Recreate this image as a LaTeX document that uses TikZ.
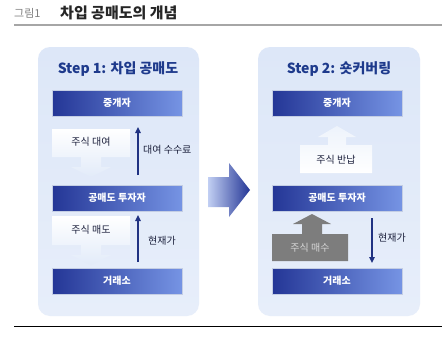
\documentclass[tikz,border=0pt]{standalone}
\usepackage{fontspec}
\setmainfont{Noto Sans CJK KR}
\usetikzlibrary{arrows.meta}
\definecolor{navy}{RGB}{32,50,130}
\definecolor{titleblue}{RGB}{30,58,140}
\definecolor{darktext}{RGB}{28,32,60}
\definecolor{panelA}{RGB}{221,231,248}
\definecolor{panelB}{RGB}{231,238,250}
\definecolor{boxL}{RGB}{36,54,150}
\definecolor{boxR}{RGB}{118,148,228}
\definecolor{boxedge}{RGB}{196,206,228}
\definecolor{fade}{RGB}{226,235,249}
\definecolor{graybox}{RGB}{125,125,125}
\definecolor{graytext}{RGB}{215,215,215}
\tikzset{
  panel/.style={rounded corners=12pt, top color=panelA, bottom color=panelB, draw=none},
  bluebox/.style={draw=boxedge, line width=1pt, left color=boxL, right color=boxR,
     minimum width=130pt, minimum height=26pt, inner sep=0pt, text=white,
     font=\fontsize{10}{12}\selectfont\bfseries},
  steptitle/.style={text=titleblue, font=\fontsize{14}{16}\selectfont\bfseries},
  lbl/.style={text=darktext, font=\fontsize{10}{12}\selectfont},
  thinarrow/.style={draw=navy, line width=1.5pt, -{Triangle[length=6pt,width=5.5pt]}},
}
\begin{document}
\begin{tikzpicture}[x=1pt,y=-1pt]
\useasboundingbox (0,0) rectangle (442,340);
\fill[white] (0,0) rectangle (442,340);

% header
\node[anchor=west, text=gray, font=\fontsize{11}{13}\selectfont, inner sep=0pt] (fig) at (14,13) {그림1};
\node[anchor=west, text=black!85, font=\fontsize{15}{17}\selectfont\bfseries, inner sep=0pt] (ttl) at (60,13) {차입 공매도의 개념};
\draw[gray!70, line width=2pt] (14,25) -- (442,25);
\draw[black, line width=1pt] (14,326) -- (442,326);

% panels
\path[panel] (38,47) rectangle (199,316);
\path[panel] (258,47) rectangle (420,316);

% middle arrow
\shade[left color=boxR!45, right color=boxL]
  (208,177) -- (229,177) -- (229,163) -- (250,190) -- (229,217) -- (229,207) -- (208,207) -- cycle;

% ---------- Step 1 ----------
\node[steptitle] (s1) at (118,69) {Step 1: 차입 공매도};
\node[bluebox] (b1) at (117,103) {중개자};
\node[bluebox] (b2) at (117,198) {공매도 투자자};
\node[bluebox] (b3) at (117,281) {거래소};

\shade[top color=white, middle color=white, bottom color=fade]
  (52,129) -- (130,129) -- (130,157) -- (101,157) -- (101,167) -- (111,167) -- (91,177)
  -- (71,167) -- (81,167) -- (81,157) -- (52,157) -- cycle;
\node[lbl] (w1) at (91,142) {주식 대여};

\shade[top color=white, middle color=white, bottom color=fade]
  (52,216) -- (130,216) -- (130,245) -- (101,245) -- (101,255) -- (111,255) -- (91,265)
  -- (71,255) -- (81,255) -- (81,245) -- (52,245) -- cycle;
\node[lbl] (w2) at (91,230) {주식 매도};

\coordinate (a1s) at (138,175);
\coordinate (a1e) at (138,127);
\draw[thinarrow] (a1s) -- (a1e);
\node[lbl, anchor=west, inner sep=0pt] (fee) at (143,150) {대여 수수료};

\coordinate (a2s) at (138,262);
\coordinate (a2e) at (138,215);
\draw[thinarrow] (a2s) -- (a2e);
\node[lbl, anchor=west, inner sep=0pt] (p1) at (148,241) {현재가};

% ---------- Step 2 ----------
\node[steptitle] (s2) at (339,69) {Step 2: 숏커버링};
\node[bluebox] (c1) at (337,103) {중개자};
\node[bluebox] (c2) at (337,198) {공매도 투자자};
\node[bluebox] (c3) at (337,281) {거래소};

\shade[bottom color=white, middle color=white, top color=fade!60!white]
  (300,173) -- (300,145) -- (328,145) -- (328,137) -- (318,137) -- (337,126) -- (356,137)
  -- (346,137) -- (346,145) -- (372,145) -- (372,173) -- cycle;
\node[lbl] (r1) at (336,160) {주식 반납};

\fill[graybox]
  (272,261) -- (272,234) -- (302,234) -- (302,224) -- (293,224) -- (312,214) -- (331,224)
  -- (322,224) -- (322,234) -- (348,234) -- (348,261) -- cycle;
\node[text=graytext, font=\fontsize{10}{12}\selectfont] (r2) at (310,248) {주식 매수};

\coordinate (a3s) at (372,218);
\coordinate (a3e) at (372,263);
\draw[thinarrow] (a3s) -- (a3e);
\node[lbl, anchor=west, inner sep=0pt] (p2) at (378,238) {현재가};
\end{tikzpicture}
\end{document}
